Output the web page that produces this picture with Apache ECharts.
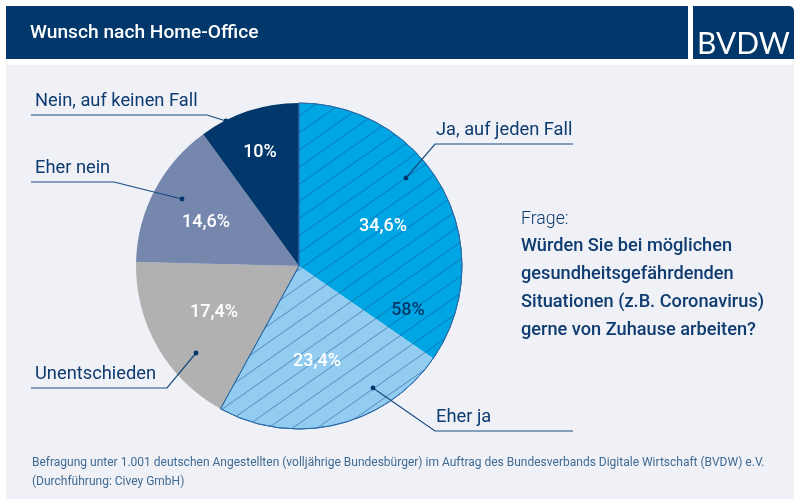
<!DOCTYPE html>
<html>
<head>
<meta charset="utf-8">
<script src="https://cdn.jsdelivr.net/npm/echarts@6/dist/echarts.min.js"></script>
<style>
html, body { margin: 0; padding: 0; background: #fff; }
#chart { width: 800px; height: 504px; }
</style>
</head>
<body>
<div id="chart"></div>
<script>
// Daten
const categories = ['Ja, auf jeden Fall', 'Eher ja', 'Unentschieden', 'Eher nein', 'Nein, auf keinen Fall'];
const values = [34.6, 23.4, 17.4, 14.6, 10];
const valueLabels = ['34,6%', '23,4%', '17,4%', '14,6%', '10%'];
const yesTotal = 58;
const yesLabel = '58%';
const footnote = [
    'Befragung unter 1.001 deutschen Angestellten (volljährige Bundesbürger) im Auftrag des Bundesverbands Digitale Wirtschaft (BVDW) e.V.',
    '(Durchführung: Civey GmbH)'
];
const questionHead = 'Frage:';
const questionLines = ['Würden Sie bei möglichen', 'gesundheitsgefährdenden', 'Situationen (z.B. Coronavirus)', 'gerne von Zuhause arbeiten?'];

const NAVY = '#01376a';
const TEXT = '#0e3b70';
const sliceColors = ['#00a6e4', '#93ccf1', '#b1b1b1', '#7587ad', NAVY];
const FONT = 'Roboto';

// Position der Werte im Kreis
const labelPos = [[383, 226], [317, 361], [214, 312], [206, 222], [260, 152]];

// Beschriftungen mit Fuehrungslinien: Text, Linie, Punkt
const callouts = [
    { i: 0, tx: 436, ty: 130, line: [[573, 144], [435, 144], [406, 178]] },
    { i: 1, tx: 436, ty: 417, line: [[573, 431], [435, 431], [373, 388]] },
    { i: 2, tx: 35, ty: 374, line: [[31, 388], [167, 388], [196, 353]] },
    { i: 3, tx: 35, ty: 168, line: [[31, 182], [114, 182], [182, 199]] },
    { i: 4, tx: 35, ty: 101, line: [[31, 115], [207, 115], [226, 121]] }
];

function textEl(x, y, text, fill, font, z) {
    return { type: 'text', x, y, z: z || 0, style: { text, fill, font, verticalAlign: 'middle' } };
}

const graphics = [
    { type: 'rect', shape: { x: 6, y: 6, width: 682, height: 53 }, style: { fill: NAVY } },
    { type: 'rect', shape: { x: 693, y: 6, width: 101, height: 53, r: [0, 5, 0, 0] }, style: { fill: NAVY } },
    { type: 'rect', shape: { x: 6, y: 65, width: 788, height: 434 }, style: { fill: '#f0f1f7' }, z: -1 },
    textEl(30, 33, 'Wunsch nach Home-Office', '#fff', '500 19.2px ' + FONT),
    textEl(697, 44, 'BVDW', '#fff', '400 30px Lato'),
    textEl(521, 220, questionHead, TEXT, '300 17.7px ' + FONT)
];
questionLines.forEach((t, k) => {
    graphics.push(textEl(521, 246 + k * 28, t, TEXT, '500 18.2px ' + FONT));
});
footnote.forEach((t, k) => {
    graphics.push(textEl(32, 463 + k * 19, t, '#3f6a92', '12px ' + FONT));
});
callouts.forEach(c => {
    const end = c.line[c.line.length - 1];
    graphics.push(textEl(c.tx, c.ty, categories[c.i], TEXT, '18.3px ' + FONT, 20));
    graphics.push({ type: 'polyline', z: 20, shape: { points: c.line }, style: { stroke: '#174a80', lineWidth: 1.2, fill: null } });
    graphics.push({ type: 'circle', z: 20, shape: { cx: end[0], cy: end[1], r: 2.4 }, style: { fill: NAVY } });
});

const chart = echarts.init(document.getElementById('chart'), null, { renderer: 'canvas' });

chart.setOption({
    animation: false,
    graphic: { elements: graphics },
    series: [
        {
            type: 'pie',
            center: [299, 266],
            radius: [0, 163],
            startAngle: 90,
            clockwise: true,
            silent: true,
            z: 2,
            labelLine: { show: false },
            label: { show: false },
            data: categories.map((name, i) => ({ name, value: values[i], itemStyle: { color: sliceColors[i] } }))
        },
        {
            // Schraffur ueber den beiden Ja-Segmenten
            type: 'pie',
            center: [299, 266],
            radius: [0, 163],
            startAngle: 90,
            clockwise: true,
            silent: true,
            z: 3,
            labelLine: { show: false },
            label: { show: false },
            data: [
                {
                    name: 'Ja gesamt',
                    value: yesTotal,
                    itemStyle: {
                        color: 'transparent',
                        borderColor: '#2b6ca8',
                        borderWidth: 1,
                        decal: { symbol: 'rect', symbolSize: 1, color: 'rgba(20,70,130,0.42)', dashArrayX: [1, 0], dashArrayY: [1, 13], rotation: -Math.PI / 180 * 35 }
                    }
                },
                { name: 'Rest', value: 100 - yesTotal, itemStyle: { color: 'transparent' } }
            ]
        },
        {
            // Werte, eigene Ebene damit die Schraffur nicht darueber liegt
            type: 'pie',
            center: [299, 266],
            radius: [0, 163],
            startAngle: 90,
            clockwise: true,
            silent: true,
            z: 4,
            labelLine: { show: false },
            label: {
                show: true,
                position: 'inside',
                color: '#fff',
                fontFamily: FONT,
                fontSize: 18,
                fontWeight: 500,
                formatter: p => valueLabels[p.dataIndex]
            },
            labelLayout: p => ({ x: labelPos[p.dataIndex][0], y: labelPos[p.dataIndex][1], align: 'center', verticalAlign: 'middle' }),
            data: categories.map((name, i) => ({ name, value: values[i], itemStyle: { color: 'transparent' } }))
        },
        {
            type: 'pie',
            center: [299, 266],
            radius: [0, 163],
            startAngle: 90,
            clockwise: true,
            silent: true,
            z: 4,
            labelLine: { show: false },
            label: { show: false },
            data: [
                {
                    name: 'Ja gesamt',
                    value: yesTotal,
                    itemStyle: { color: 'transparent' },
                    label: { show: true, position: 'inside', formatter: yesLabel, color: NAVY, fontFamily: FONT, fontSize: 18, fontWeight: 500 }
                },
                { name: 'Rest', value: 100 - yesTotal, itemStyle: { color: 'transparent' } }
            ],
            labelLayout: { x: 408, y: 310, align: 'center', verticalAlign: 'middle' }
        }
    ]
});

window.onresize = () => chart.resize();
</script>
</body>
</html>
